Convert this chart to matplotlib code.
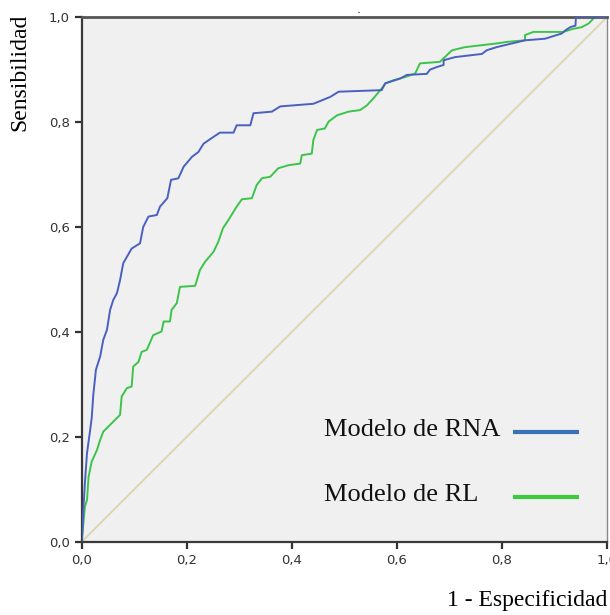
import matplotlib.pyplot as plt
from matplotlib.ticker import FuncFormatter

# ── data ──────────────────────────────────────────────────────────────────────
rna_fpr = [0.000, 0.003, 0.006, 0.010, 0.016, 0.019, 0.022, 0.027, 0.035, 0.041,
           0.048, 0.054, 0.060, 0.067, 0.073, 0.079, 0.095, 0.111, 0.117, 0.127,
           0.143, 0.149, 0.163, 0.170, 0.184, 0.194, 0.210, 0.222, 0.232, 0.251,
           0.263, 0.289, 0.295, 0.321, 0.327, 0.362, 0.378, 0.441, 0.473, 0.489,
           0.571, 0.578, 0.606, 0.619, 0.657, 0.663, 0.676, 0.689, 0.689, 0.711,
           0.762, 0.771, 0.790, 0.844, 0.882, 0.914, 0.921, 0.930, 0.940, 0.941,
           1.000]
rna_tpr = [0.000, 0.061, 0.112, 0.169, 0.213, 0.236, 0.280, 0.328, 0.353, 0.385,
           0.404, 0.442, 0.461, 0.474, 0.499, 0.531, 0.559, 0.569, 0.600, 0.620,
           0.623, 0.639, 0.655, 0.690, 0.693, 0.715, 0.734, 0.743, 0.759, 0.772,
           0.780, 0.780, 0.794, 0.794, 0.817, 0.820, 0.830, 0.835, 0.848, 0.858,
           0.861, 0.874, 0.883, 0.890, 0.892, 0.900, 0.905, 0.909, 0.918, 0.924,
           0.930, 0.937, 0.943, 0.956, 0.959, 0.969, 0.975, 0.981, 0.984, 1.000,
           1.000]

rl_fpr = [0.000, 0.006, 0.010, 0.013, 0.019, 0.029, 0.035, 0.041, 0.054, 0.063,
          0.073, 0.076, 0.086, 0.095, 0.098, 0.108, 0.114, 0.124, 0.136, 0.152,
          0.156, 0.168, 0.171, 0.181, 0.187, 0.216, 0.225, 0.235, 0.251, 0.260,
          0.269, 0.279, 0.295, 0.305, 0.324, 0.333, 0.343, 0.359, 0.374, 0.394,
          0.416, 0.419, 0.438, 0.441, 0.448, 0.463, 0.470, 0.486, 0.508, 0.530,
          0.543, 0.555, 0.571, 0.578, 0.594, 0.619, 0.635, 0.644, 0.682, 0.705,
          0.730, 0.790, 0.810, 0.844, 0.844, 0.860, 0.917, 0.936, 0.952, 0.965,
          0.971, 0.976, 1.000]
rl_tpr = [0.000, 0.067, 0.080, 0.124, 0.153, 0.175, 0.194, 0.210, 0.223, 0.232,
          0.242, 0.277, 0.293, 0.296, 0.334, 0.343, 0.362, 0.366, 0.394, 0.401,
          0.420, 0.420, 0.442, 0.455, 0.486, 0.488, 0.518, 0.534, 0.553, 0.572,
          0.598, 0.613, 0.639, 0.653, 0.655, 0.680, 0.693, 0.696, 0.712, 0.718,
          0.721, 0.737, 0.740, 0.766, 0.785, 0.788, 0.801, 0.813, 0.820, 0.823,
          0.832, 0.845, 0.864, 0.874, 0.880, 0.887, 0.893, 0.912, 0.915, 0.937,
          0.943, 0.950, 0.953, 0.956, 0.966, 0.972, 0.972, 0.978, 0.981, 0.988,
          0.994, 1.000, 1.000]

ref_line = [0.0, 1.0]
ticks = [0.0, 0.2, 0.4, 0.6, 0.8, 1.0]
labels = ['Modelo de RNA', 'Modelo de RL']

# ── figure ────────────────────────────────────────────────────────────────────
fig = plt.figure(figsize=(6.1, 6.15), dpi=100)
ax = fig.add_axes([0.134, 0.119, 0.861, 0.853])
ax.set_facecolor('#f0f0f0')

ax.plot(ref_line, ref_line, color='#dcd6ad', lw=1.3, zorder=1)
ax.plot(rna_fpr, rna_tpr, color='#4a60c0', lw=1.4, zorder=3)
ax.plot(rl_fpr, rl_tpr, color='#3cc44a', lw=1.4, zorder=2)

ax.set_xlim(0, 1)
ax.set_ylim(0, 1)
ax.set_xticks(ticks)
ax.set_yticks(ticks)
fmt = FuncFormatter(lambda v, p: f'{v:.1f}'.replace('.', ','))
ax.xaxis.set_major_formatter(fmt)
ax.yaxis.set_major_formatter(fmt)
ax.tick_params(direction='out', length=5, width=1.6, color='#333333',
               labelsize=9.5, labelcolor='#333333')

for side in ['left', 'bottom']:
    ax.spines[side].set_color('#3a3a3a')
    ax.spines[side].set_linewidth(1.6)
ax.spines['top'].set_color('#555555')
ax.spines['top'].set_linewidth(2.0)
ax.spines['right'].set_color('#888888')
ax.spines['right'].set_linewidth(1.0)

# axis titles (serif, placed like the original)
fig.text(0.033, 0.978, 'Sensibilidad', rotation=90, ha='center', va='top',
         family='Liberation Serif', fontsize=17)
fig.text(0.995, 0.0146, '1 - Especificidad', ha='right', va='baseline',
         family='Liberation Serif', fontsize=17)
fig.text(0.588, 0.985, '.', ha='center', va='center', fontsize=9, color='#222222')

# legend drawn by hand: label first (left aligned), then line
leg_colors = ['#3a72b8', '#40c840']
leg_y = [0.213, 0.090]
for lab, col, yy in zip(labels, leg_colors, leg_y):
    ax.text(0.4615, yy, lab, transform=ax.transAxes, ha='left', va='center',
            family='Liberation Serif', fontsize=19, color='#111111')
    ax.plot([0.822, 0.946], [yy - 0.004, yy - 0.004], transform=ax.transAxes,
            color=col, lw=3, solid_capstyle='butt')

fig.savefig('out.png', dpi=100, facecolor='white')
